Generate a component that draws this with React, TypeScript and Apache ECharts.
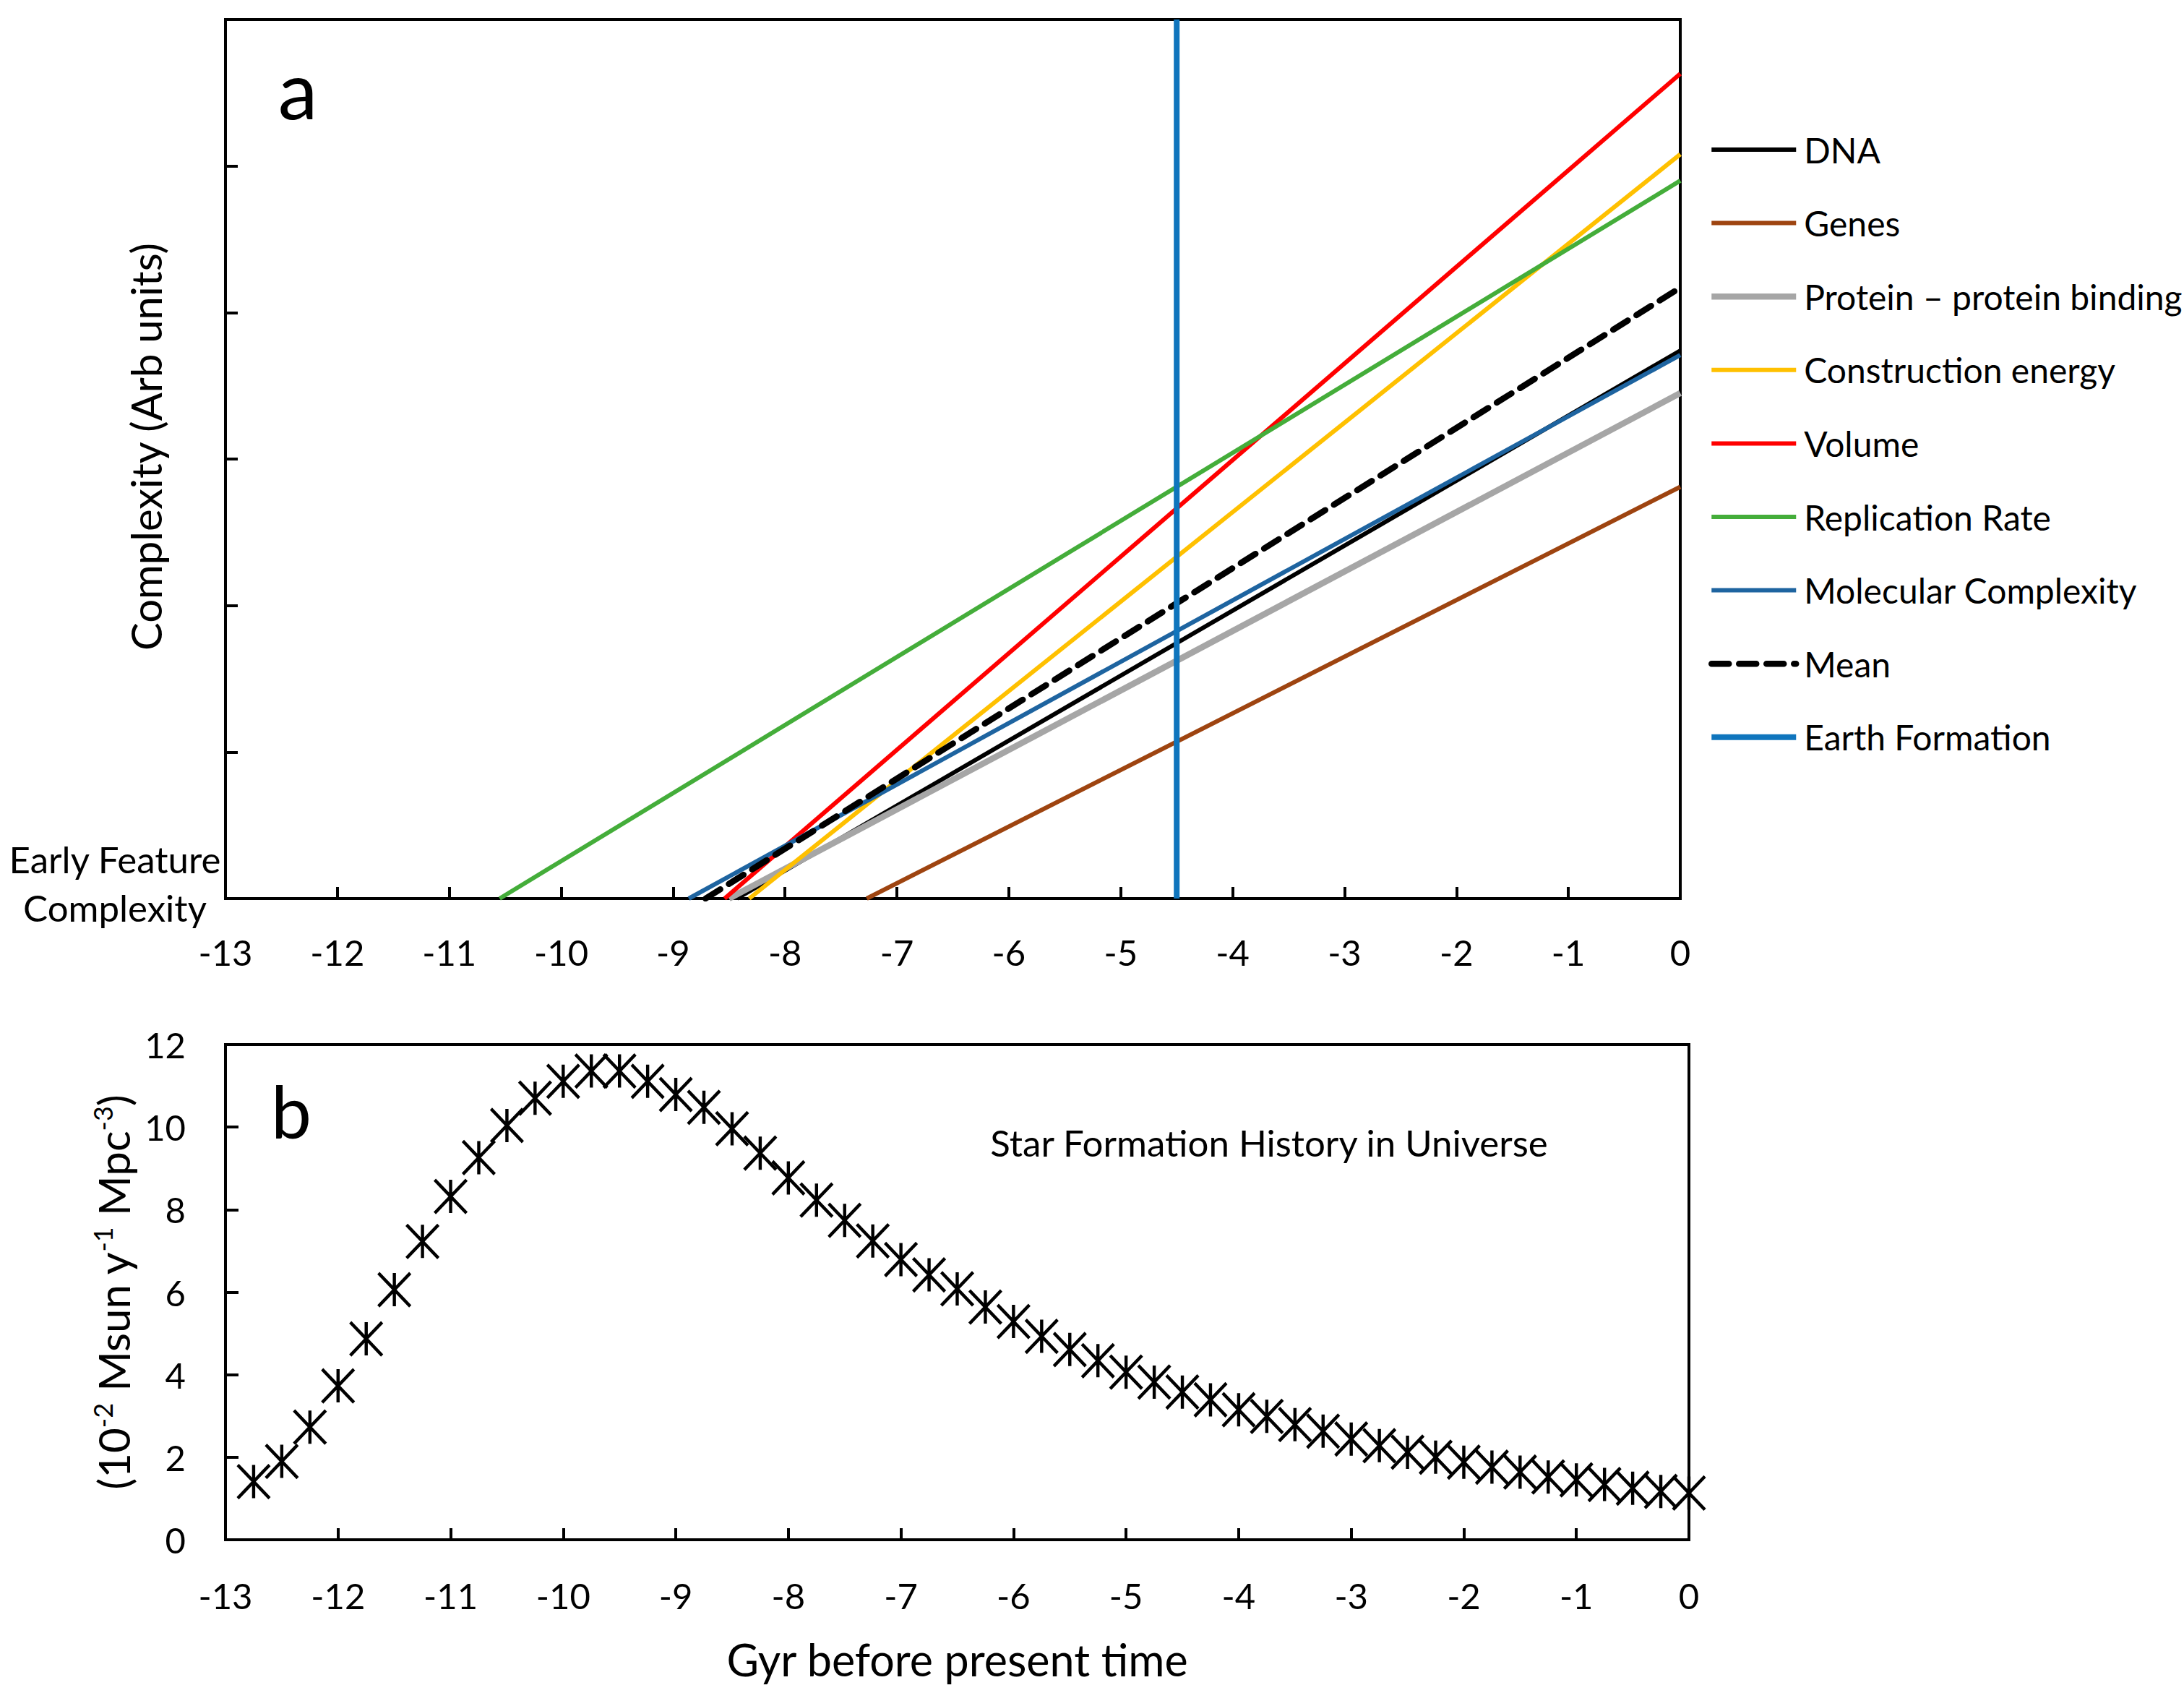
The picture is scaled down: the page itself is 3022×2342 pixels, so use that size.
import React, { useEffect, useRef } from "react";
import * as echarts from "echarts";

// ---- Panel a: complexity lines (start on x axis at y=0, end at x=0) ----
const lineNames = [
  "DNA",
  "Genes",
  "Protein – protein binding",
  "Construction energy",
  "Volume",
  "Replication Rate",
  "Molecular Complexity",
  "Mean",
];
const lineColors = ["#000000", "#9E4410", "#A6A6A6", "#FFC000", "#FF0000", "#44AD3A", "#1E64A0", "#000000"];
const lineStartX = [-8.43, -7.27, -8.5, -8.32, -8.54, -10.55, -8.86, -8.71];
const lineEndY = [3.74, 2.81, 3.45, 5.08, 5.63, 4.9, 3.71, 4.17];
const lineWidths = [6, 6, 8.5, 6, 6, 6, 6, 8.5];
const earthName = "Earth Formation";
const earthX = -4.5;
const earthColor = "#0F75BD";

// ---- Panel b: star formation history ----
const sfrTime = [
  -12.75, -12.5, -12.25, -12, -11.75, -11.5, -11.25, -11, -10.75, -10.5, -10.25, -10, -9.75, -9.5, -9.25, -9,
  -8.75, -8.5, -8.25, -8, -7.75, -7.5, -7.25, -7, -6.75, -6.5, -6.25, -6, -5.75, -5.5, -5.25, -5, -4.75, -4.5,
  -4.25, -4, -3.75, -3.5, -3.25, -3, -2.75, -2.5, -2.25, -2, -1.75, -1.5, -1.25, -1, -0.75, -0.5, -0.25, 0,
];
const sfrValues = [
  1.41, 1.9, 2.73, 3.73, 4.87, 6.06, 7.23, 8.32, 9.26, 10.04, 10.7, 11.11, 11.36, 11.36, 11.11, 10.79, 10.48,
  9.96, 9.37, 8.77, 8.23, 7.74, 7.24, 6.79, 6.42, 6.08, 5.64, 5.29, 4.93, 4.61, 4.34, 4.06, 3.82, 3.58, 3.39,
  3.15, 2.99, 2.79, 2.63, 2.44, 2.28, 2.12, 2.0, 1.88, 1.76, 1.64, 1.52, 1.45, 1.34, 1.25, 1.17, 1.13,
];

const FONT = "Lato";

export default function App() {
  const ref = useRef<HTMLDivElement>(null);
  useEffect(() => {
    if (!ref.current) return;
    const chart = echarts.init(ref.current, undefined, { renderer: "svg" });

    const lineSeries: any[] = lineNames.map((name, i) => ({
      name,
      type: "line",
      xAxisIndex: 0,
      yAxisIndex: 0,
      symbol: "none",
      showSymbol: false,
      data: [
        [lineStartX[i], 0],
        [0, lineEndY[i]],
      ],
      lineStyle: {
        color: lineColors[i],
        width: lineWidths[i],
        type: name === "Mean" ? [24, 14] : "solid",
        cap: name === "Mean" ? "round" : "butt",
      },
      itemStyle: { color: lineColors[i] },
      z: 2 + i,
    }));
    lineSeries.push({
      name: earthName,
      type: "line",
      xAxisIndex: 0,
      yAxisIndex: 0,
      symbol: "none",
      showSymbol: false,
      data: [
        [earthX, 0],
        [earthX, 6],
      ],
      lineStyle: { color: earthColor, width: 8 },
      itemStyle: { color: earthColor },
      z: 12,
    });

    const axisLine = { show: true, onZero: false, lineStyle: { color: "#000", width: 4 } };
    const labelStyle = { color: "#000", fontFamily: FONT, fontSize: 49, lineHeight: 49 };

    chart.setOption({
      animation: false,
      backgroundColor: "#fff",
      textStyle: { fontFamily: FONT },
      legend: {
        orient: "vertical",
        left: 2359,
        top: 174,
        itemWidth: 117,
        itemHeight: 20,
        itemGap: 45.6,
        data: [...lineNames, earthName],
        itemStyle: { color: "rgba(0,0,0,0)", borderWidth: 0, opacity: 0 },
        lineStyle: { width: "inherit", type: "inherit" },
        textStyle: { color: "#000", fontFamily: FONT, fontSize: 48, lineHeight: 56, padding: [0, 0, 0, 6] },
      },
      grid: [
        {
          left: 312,
          top: 27,
          right: 697,
          bottom: 1099,
          show: true,
          borderColor: "#000",
          borderWidth: 4,
          containLabel: false,
          outerBoundsMode: "none",
        },
        {
          left: 312,
          top: 1445,
          right: 685,
          bottom: 212,
          show: true,
          borderColor: "#000",
          borderWidth: 4,
          containLabel: false,
          outerBoundsMode: "none",
        },
      ],
      xAxis: [
        {
          type: "value",
          gridIndex: 0,
          min: -13,
          max: 0,
          interval: 1,
          axisLine,
          axisTick: { show: true, inside: true, length: 16, lineStyle: { color: "#000", width: 4 } },
          axisLabel: { ...labelStyle, margin: 49 },
          splitLine: { show: false },
        },
        {
          type: "value",
          gridIndex: 1,
          min: -13,
          max: 0,
          interval: 1,
          axisLine,
          axisTick: { show: true, inside: true, length: 16, lineStyle: { color: "#000", width: 4 } },
          axisLabel: { ...labelStyle, margin: 52 },
          splitLine: { show: false },
          name: "Gyr before present time",
          nameLocation: "middle",
          nameGap: 133,
          nameMoveOverlap: false,
          nameTextStyle: { color: "#000", fontFamily: FONT, fontSize: 61, lineHeight: 64 },
        },
      ],
      yAxis: [
        {
          type: "value",
          gridIndex: 0,
          min: 0,
          max: 6,
          interval: 1,
          axisLine,
          axisTick: { show: true, inside: true, length: 17, lineStyle: { color: "#000", width: 4 } },
          axisLabel: {
            color: "#000",
            fontFamily: FONT,
            fontSize: 51,
            align: "center",
            verticalAlign: "middle",
            margin: 153,
            formatter: (v: number) => (v === 0 ? "{a|Early Feature}\n{a|Complexity}\n{e| }" : ""),
            rich: {
              a: { fontSize: 51, lineHeight: 67, fontFamily: FONT, color: "#000", align: "center" },
              e: { fontSize: 10, lineHeight: 42, fontFamily: FONT, color: "#000" },
            },
          },
          splitLine: { show: false },
          name: "Complexity (Arb units)",
          nameLocation: "middle",
          nameRotate: 90,
          nameGap: 80,
          nameMoveOverlap: false,
          nameTextStyle: { color: "#000", fontFamily: FONT, fontSize: 58, lineHeight: 62, padding: [0, 0, 0, 34] },
        },
        {
          type: "value",
          gridIndex: 1,
          min: 0,
          max: 12,
          interval: 2,
          axisLine,
          axisTick: { show: true, inside: true, length: 18, lineStyle: { color: "#000", width: 4 } },
          axisLabel: { ...labelStyle, margin: 55 },
          splitLine: { show: false },
          name: "{n|(10}{s|-2}{n| Msun y}{s|-1}{n| Mpc}{s|-3}{n|)}",
          nameLocation: "middle",
          nameRotate: 90,
          nameGap: 122,
          nameMoveOverlap: false,
          nameTextStyle: {
            color: "#000",
            fontFamily: FONT,
            rich: {
              n: { fontSize: 60, lineHeight: 66, fontFamily: FONT, color: "#000" },
              s: { fontSize: 36, lineHeight: 38, verticalAlign: "top", fontFamily: FONT, color: "#000" },
            },
          },
        },
      ],
      series: [
        ...lineSeries,
        {
          name: "Star Formation History",
          type: "scatter",
          xAxisIndex: 1,
          yAxisIndex: 1,
          data: sfrTime.map((t, i) => [t, sfrValues[i]]),
          symbol: "path://M0,0L40,44M40,0L0,44M20,0L20,44",
          symbolSize: [44, 46],
          symbolKeepAspect: false,
          itemStyle: { color: "rgba(0,0,0,0)", borderColor: "#000", borderWidth: 4.5, opacity: 1 },
          clip: false,
          z: 5,
        },
      ],
      graphic: [
        {
          type: "text",
          style: { text: "a", x: 412, y: 122, fontSize: 110, fontFamily: FONT, fill: "#000", align: "center", verticalAlign: "middle" },
        },
        {
          type: "text",
          style: { text: "b", x: 403, y: 1536, fontSize: 100, fontFamily: FONT, fill: "#000", align: "center", verticalAlign: "middle" },
        },
        {
          type: "text",
          style: {
            text: "Star Formation History in Universe",
            x: 1756,
            y: 1580,
            fontSize: 51,
            fontFamily: FONT,
            fill: "#000",
            align: "center",
            verticalAlign: "middle",
          },
        },
      ],
    });
    return () => chart.dispose();
  }, []);
  return <div ref={ref} style={{ position: "fixed", left: 0, top: 0, width: 3022, height: 2342, background: "#fff" }} />;
}
